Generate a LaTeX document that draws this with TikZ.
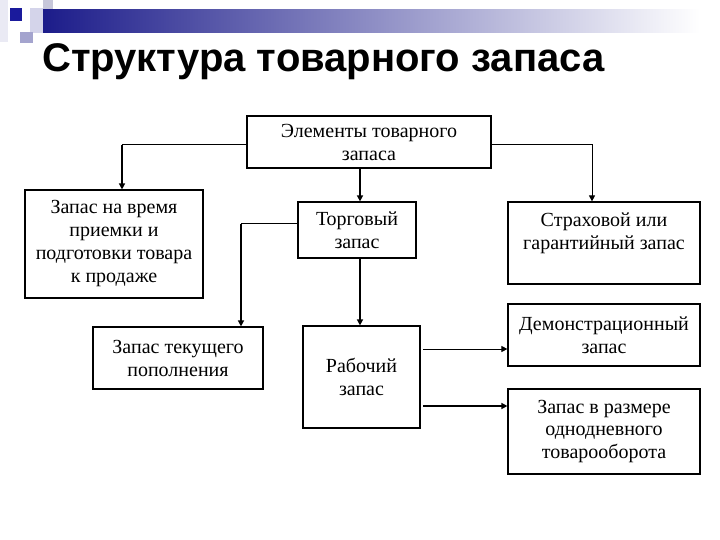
\documentclass[tikz,border=0pt]{standalone}
\usepackage{fontspec}
\setmainfont{Liberation Serif}
\newfontfamily\titlefont{Liberation Sans}
\usetikzlibrary{arrows.meta,positioning}
\definecolor{navy}{HTML}{1C1C8A}
\definecolor{sqdark}{HTML}{1A1A9C}
\definecolor{sqlight}{HTML}{D4D4EA}
\definecolor{sqmid}{HTML}{A4A4CE}
\definecolor{sqpale}{HTML}{EAEAF4}
\tikzset{
  box/.style={draw=black, line width=1.2pt, rectangle, inner sep=2pt, align=center,
    font=\fontsize{20}{23}\selectfont},
  thinline/.style={line width=1pt},
  thickline/.style={line width=2pt},
  tip/.style={-{Triangle[length=6pt,width=6pt]}},
}
\begin{document}
\begin{tikzpicture}[x=1pt,y=-1pt]
\useasboundingbox (0,0) rectangle (720,540);
% decoration
\fill[sqpale] (0,0) rectangle (8,42);
\fill[sqlight] (30,8) rectangle (44,33);
\fill[sqlight!85!gray] (43,0) rectangle (53,20);
\fill[sqmid] (20,32) rectangle (33,43);
\fill[sqdark] (10,8) rectangle (22,21);
\shade[left color=navy, right color=white] (43,10) rectangle (700,33);
% title
\node[anchor=base west, inner sep=0pt, font=\titlefont\bfseries\fontsize{40}{48}\selectfont] (title) at (42,72) {Структура товарного запаса};
% boxes
\node[box, minimum width=244pt, minimum height=52pt] (el) at (369,142) {Элементы товарного\\запаса};
\node[box, minimum width=178pt, minimum height=108pt] (z1) at (114,244) {Запас на время\\приемки и\\подготовки товара\\к продаже};
\node[box, minimum width=118pt, minimum height=56pt] (tr) at (357,230) {Торговый\\запас};
\node[box, minimum width=192pt, minimum height=82pt] (st) at (604,243) {Страховой или\\гарантийный запас\\~};
\node[box, minimum width=170pt, minimum height=62pt] (zt) at (178,358) {Запас текущего\\пополнения};
\node[box, minimum width=117pt, minimum height=102pt] (rb) at (361.5,377) {Рабочий\\запас};
\node[box, minimum width=192pt, minimum height=62pt] (dm) at (604,335) {Демонстрационный\\запас};
\node[box, minimum width=192pt, minimum height=85pt] (zr) at (604,431.5) {Запас в размере\\однодневного\\товарооборота};
% connectors
\coordinate (c1) at (122,145);
\coordinate (c3) at (241,224);
\coordinate (c4) at (592,145);
\draw[thinline] (c1 -| el.west) -- (c1);
\draw[thickline,tip] (c1) -- (c1 |- z1.north);
\draw[thickline,tip] (el.south -| 360,0) -- (tr.north -| 360,0);
\draw[thinline] (c3 -| tr.west) -- (c3);
\draw[thickline,tip] (c3) -- (c3 |- zt.north);
\draw[thinline,tip] (c4 -| el.east) -| (c4 |- st.north);
\draw[thickline,tip] (tr.south -| 360,0) -- (rb.north -| 360,0);
\coordinate (a1) at (423,349);
\coordinate (a2) at (423,406);
\draw[thinline,tip] (a1) -- (a1 -| dm.west);
\draw[thickline,tip] (a2) -- (a2 -| zr.west);
\end{tikzpicture}
\end{document}
